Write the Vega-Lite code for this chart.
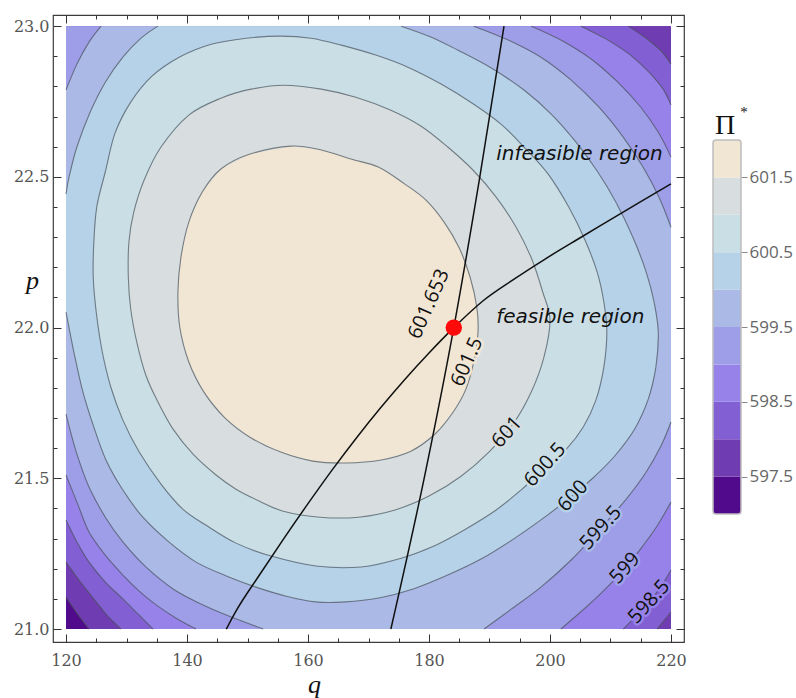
{
  "$schema": "https://vega.github.io/schema/vega-lite/v6.json",
  "padding": {"left": 12, "top": 13, "right": 0, "bottom": 0},
  "background": "white",
  "spacing": 25,
  "config": {"axis": {"grid": false, "domain": false}, "view": {"stroke": null}},
  "datasets": {
    "base": [{"q":120,"p":23},{"q":120,"p":21},{"q":220,"p":21},{"q":220,"p":23}],
    "L5975": [{"q":120,"p":23},{"q":null,"p":null},{"q":120,"p":21.106},{"q":121.8,"p":21.053},{"q":123.8,"p":21},{"q":null,"p":null},{"q":220,"p":21},{"q":null,"p":null},{"q":220,"p":23}],
    "L598": [{"q":120,"p":23},{"q":null,"p":null},{"q":120,"p":21.222},{"q":122.5,"p":21.153},{"q":125,"p":21.09},{"q":126.9,"p":21.043},{"q":129.1,"p":21},{"q":null,"p":null},{"q":217.7,"p":21},{"q":218.8,"p":21.027},{"q":220,"p":21.056},{"q":null,"p":null},{"q":220,"p":22.874},{"q":218.4,"p":22.917},{"q":215.9,"p":22.96},{"q":212.9,"p":23}],
    "L5985": [{"q":120,"p":23},{"q":null,"p":null},{"q":120,"p":21.362},{"q":121.8,"p":21.289},{"q":123.8,"p":21.222},{"q":126.5,"p":21.156},{"q":129.4,"p":21.1},{"q":131.9,"p":21.05},{"q":134.4,"p":21},{"q":null,"p":null},{"q":212.1,"p":21},{"q":214.2,"p":21.043},{"q":216.4,"p":21.09},{"q":218.4,"p":21.143},{"q":220,"p":21.196},{"q":null,"p":null},{"q":220,"p":22.738},{"q":218.7,"p":22.791},{"q":216.4,"p":22.847},{"q":213.1,"p":22.907},{"q":209.3,"p":22.957},{"q":205.1,"p":23}],
    "L599": [{"q":120,"p":23},{"q":null,"p":null},{"q":120,"p":21.511},{"q":122,"p":21.411},{"q":123.8,"p":21.322},{"q":126.5,"p":21.245},{"q":129.4,"p":21.179},{"q":132.1,"p":21.126},{"q":134.9,"p":21.08},{"q":138.2,"p":21.036},{"q":141.5,"p":21},{"q":null,"p":null},{"q":201.8,"p":21},{"q":206,"p":21.073},{"q":209.3,"p":21.136},{"q":212.4,"p":21.202},{"q":215.2,"p":21.272},{"q":217.7,"p":21.342},{"q":220,"p":21.421},{"q":null,"p":null},{"q":220,"p":22.566},{"q":217.9,"p":22.648},{"q":215,"p":22.731},{"q":211.2,"p":22.814},{"q":206.8,"p":22.891},{"q":201.8,"p":22.954},{"q":196.9,"p":23}],
    "L5995": [{"q":125.8,"p":23},{"q":123.8,"p":22.947},{"q":121.8,"p":22.874},{"q":120,"p":22.788},{"q":null,"p":null},{"q":120,"p":21.713},{"q":121.7,"p":21.587},{"q":123.8,"p":21.471},{"q":126.5,"p":21.371},{"q":129.4,"p":21.289},{"q":133.2,"p":21.206},{"q":137.7,"p":21.133},{"q":142.3,"p":21.083},{"q":146.9,"p":21.043},{"q":152.6,"p":21},{"q":null,"p":null},{"q":189.1,"p":21},{"q":193.6,"p":21.066},{"q":198.5,"p":21.139},{"q":203.5,"p":21.229},{"q":208.4,"p":21.335},{"q":212.6,"p":21.431},{"q":215.9,"p":21.521},{"q":218.4,"p":21.61},{"q":220,"p":21.687},{"q":null,"p":null},{"q":220,"p":22.333},{"q":218,"p":22.433},{"q":215.4,"p":22.532},{"q":212.1,"p":22.632},{"q":208.1,"p":22.731},{"q":203.5,"p":22.821},{"q":198.5,"p":22.897},{"q":193.1,"p":22.954},{"q":187.4,"p":23}],
    "L600": [{"q":175.4,"p":23},{"q":180.3,"p":22.964},{"q":184.8,"p":22.92},{"q":190.3,"p":22.861},{"q":195.7,"p":22.788},{"q":200.2,"p":22.708},{"q":204.3,"p":22.615},{"q":207.9,"p":22.516},{"q":210.9,"p":22.416},{"q":213.7,"p":22.3},{"q":215.9,"p":22.184},{"q":217.2,"p":22.085},{"q":217.9,"p":21.985},{"q":217.5,"p":21.869},{"q":216.2,"p":21.76},{"q":213.9,"p":21.66},{"q":210.7,"p":21.574},{"q":207.1,"p":21.501},{"q":203,"p":21.431},{"q":198.5,"p":21.362},{"q":193.7,"p":21.295},{"q":188.6,"p":21.232},{"q":183.1,"p":21.179},{"q":177.4,"p":21.133},{"q":171.7,"p":21.103},{"q":166.1,"p":21.09},{"q":161.3,"p":21.09},{"q":156.4,"p":21.109},{"q":151.4,"p":21.139},{"q":146.5,"p":21.176},{"q":141.5,"p":21.222},{"q":137,"p":21.289},{"q":132.7,"p":21.371},{"q":129.4,"p":21.461},{"q":126.6,"p":21.561},{"q":124.6,"p":21.67},{"q":122.8,"p":21.786},{"q":121.3,"p":21.919},{"q":120,"p":22.051},{"q":null,"p":null},{"q":120,"p":22.443},{"q":120.5,"p":22.499},{"q":121.8,"p":22.599},{"q":124,"p":22.715},{"q":126.5,"p":22.814},{"q":129.4,"p":22.897},{"q":132.4,"p":22.96},{"q":135.2,"p":23}],
    "L6005": [{"q":155.5,"p":22.967},{"q":160.5,"p":22.96},{"q":165.5,"p":22.937},{"q":171.2,"p":22.904},{"q":176.5,"p":22.864},{"q":182,"p":22.808},{"q":187.4,"p":22.741},{"q":191.9,"p":22.675},{"q":195.7,"p":22.599},{"q":199.7,"p":22.509},{"q":203.1,"p":22.4},{"q":205.8,"p":22.29},{"q":207.8,"p":22.184},{"q":208.9,"p":22.085},{"q":209.4,"p":21.985},{"q":208.9,"p":21.869},{"q":207.6,"p":21.76},{"q":205.5,"p":21.67},{"q":202.7,"p":21.597},{"q":199,"p":21.531},{"q":195.2,"p":21.461},{"q":191.1,"p":21.395},{"q":186.1,"p":21.332},{"q":181.2,"p":21.279},{"q":175.4,"p":21.235},{"q":168.8,"p":21.206},{"q":161.3,"p":21.209},{"q":153.9,"p":21.242},{"q":148.1,"p":21.285},{"q":143.1,"p":21.345},{"q":139.3,"p":21.398},{"q":135.7,"p":21.481},{"q":132.1,"p":21.587},{"q":129.4,"p":21.693},{"q":127.4,"p":21.803},{"q":126,"p":21.919},{"q":125,"p":22.051},{"q":124.5,"p":22.167},{"q":124.6,"p":22.284},{"q":125.1,"p":22.402},{"q":126.5,"p":22.517},{"q":128.1,"p":22.645},{"q":130.7,"p":22.748},{"q":134.2,"p":22.834},{"q":138.7,"p":22.897},{"q":144,"p":22.94},{"q":149.8,"p":22.96}],
    "L601": [{"q":156,"p":22.804},{"q":162.2,"p":22.791},{"q":167.9,"p":22.764},{"q":173.7,"p":22.721},{"q":178.7,"p":22.668},{"q":183.1,"p":22.599},{"q":187.3,"p":22.522},{"q":191.1,"p":22.433},{"q":194.4,"p":22.333},{"q":197,"p":22.227},{"q":198.8,"p":22.118},{"q":200,"p":22.025},{"q":199,"p":21.902},{"q":196.9,"p":21.786},{"q":193.9,"p":21.68},{"q":189.9,"p":21.587},{"q":185.3,"p":21.507},{"q":180,"p":21.441},{"q":174.4,"p":21.395},{"q":168.3,"p":21.371},{"q":162,"p":21.371},{"q":155.9,"p":21.391},{"q":151.9,"p":21.425},{"q":148.1,"p":21.464},{"q":144.8,"p":21.511},{"q":141,"p":21.58},{"q":137.7,"p":21.663},{"q":135.2,"p":21.753},{"q":133.2,"p":21.842},{"q":131.7,"p":21.952},{"q":130.7,"p":22.061},{"q":130.3,"p":22.167},{"q":130.4,"p":22.284},{"q":131.2,"p":22.383},{"q":132.9,"p":22.489},{"q":135.7,"p":22.599},{"q":140.3,"p":22.705},{"q":145.6,"p":22.761},{"q":150.6,"p":22.791}],
    "L6015": [{"q":157.2,"p":22.602},{"q":162.2,"p":22.589},{"q":167.1,"p":22.559},{"q":171.7,"p":22.532},{"q":176,"p":22.476},{"q":179.5,"p":22.423},{"q":182.5,"p":22.35},{"q":185,"p":22.264},{"q":186.8,"p":22.167},{"q":187.9,"p":22.068},{"q":188.1,"p":21.985},{"q":187.4,"p":21.886},{"q":186.1,"p":21.796},{"q":184,"p":21.72},{"q":181,"p":21.647},{"q":177,"p":21.59},{"q":172.1,"p":21.561},{"q":166.3,"p":21.551},{"q":160.8,"p":21.557},{"q":155.5,"p":21.587},{"q":150.6,"p":21.634},{"q":146.3,"p":21.7},{"q":142.8,"p":21.786},{"q":140.3,"p":21.886},{"q":138.8,"p":22.002},{"q":138.5,"p":22.118},{"q":139,"p":22.234},{"q":140.3,"p":22.35},{"q":142.5,"p":22.449},{"q":145.6,"p":22.526},{"q":150.3,"p":22.575}],
    "steep": [{"q":173.7,"p":21},{"q":179.2,"p":21.5},{"q":184.1,"p":22},{"q":188.4,"p":22.5},{"q":192.4,"p":23}],
    "curve": [{"q":146.5,"p":21},{"q":148,"p":21.056},{"q":152,"p":21.18},{"q":156,"p":21.3},{"q":160,"p":21.416},{"q":164,"p":21.528},{"q":168,"p":21.634},{"q":172,"p":21.734},{"q":176,"p":21.828},{"q":180,"p":21.916},{"q":184.1,"p":22},{"q":189,"p":22.09},{"q":194,"p":22.16},{"q":199,"p":22.225},{"q":205,"p":22.298},{"q":210,"p":22.358},{"q":215,"p":22.418},{"q":220,"p":22.477}],
    "opt": [{"q":184.1,"p":22}],
    "labA": [{"t":"601.653","q":180.0,"p":22.078,"v":601.653},{"t":"601.5","q":186.3,"p":21.886,"v":601.5}],
    "labB": [{"t":"601","q":192.9,"p":21.653,"v":601},{"t":"600.5","q":199.2,"p":21.544,"v":600.5},{"t":"600","q":203.8,"p":21.441,"v":600},{"t":"599.5","q":208.4,"p":21.335,"v":599.5},{"t":"599","q":212.4,"p":21.202,"v":599},{"t":"598.5","q":216.4,"p":21.09,"v":598.5}],
    "ann": [{"t":"infeasible region","q":191.1,"p":22.575},{"t":"feasible region","q":191.1,"p":22.035}],
    "bands": [{"lo":597,"hi":597.5,"mid":597.25},{"lo":597.5,"hi":598,"mid":597.75},{"lo":598,"hi":598.5,"mid":598.25},{"lo":598.5,"hi":599,"mid":598.75},{"lo":599,"hi":599.5,"mid":599.25},{"lo":599.5,"hi":600,"mid":599.75},{"lo":600,"hi":600.5,"mid":600.25},{"lo":600.5,"hi":601,"mid":600.75},{"lo":601,"hi":601.5,"mid":601.25},{"lo":601.5,"hi":602,"mid":601.75}],
    "barframe": [{"lo":597,"hi":602}],
    "ttl": [{"t":"Π","p":602.08}],
    "ast": [{"t":"*","p":602.31}]
  },
  "hconcat": [
    {
      "width": 631,
      "height": 627,
      "view": {"stroke": "#3c3c3c", "strokeWidth": 1.2},
      "resolve": {"axis": {"x": "independent", "y": "independent"}},
      "layer": [
        {"data": {"name": "base"}, "mark": {"type": "line", "fill": "#520A8C", "strokeWidth": 0, "invalid": "filter"},
         "encoding": {
           "x": {"field": "q", "type": "quantitative", "scale": {"domain": [117.85, 222.15], "nice": false, "zero": false},
                 "axis": {"orient": "bottom", "values": [120,140,160,180,200,220], "ticks": false, "domain": false, "labelFont": "DejaVu Serif", "labelFontSize": 16, "labelColor": "#555", "labelPadding": 10, "title": "q", "titleFont": "Liberation Serif", "titleFontSize": 26, "titleFontStyle": "italic", "titleFontWeight": "normal", "titleColor": "#111", "titleX": 261, "titleY": 50, "titleAlign": "center", "titleBaseline": "alphabetic", "titleAngle": 0}},
           "y": {"field": "p", "type": "quantitative", "scale": {"domain": [20.957, 23.037], "nice": false, "zero": false},
                 "axis": {"orient": "left", "values": [21,21.5,22,22.5,23], "format": ".1f", "ticks": false, "domain": false, "labelFont": "DejaVu Serif", "labelFontSize": 16, "labelColor": "#555", "labelPadding": 4, "title": "p", "titleFont": "Liberation Serif", "titleFontSize": 26, "titleFontStyle": "italic", "titleFontWeight": "normal", "titleColor": "#111", "titleX": -21, "titleY": 273, "titleAlign": "center", "titleBaseline": "alphabetic", "titleAngle": 0}},
           "order": {"value": null}}},
        {"data": {"name": "L5975"}, "mark": {"type": "line", "fill": "#703CB2", "strokeWidth": 0, "invalid": "filter"},
         "encoding": {
           "x": {"field": "q", "type": "quantitative", "axis": {"orient": "bottom", "values": [120,140,160,180,200,220], "labels": false, "ticks": true, "tickSize": 8, "offset": -8, "tickColor": "#333", "tickWidth": 1, "domain": false, "title": null}},
           "y": {"field": "p", "type": "quantitative", "axis": {"orient": "left", "values": [21,21.5,22,22.5,23], "labels": false, "ticks": true, "tickSize": 8, "offset": -8, "tickColor": "#333", "tickWidth": 1, "domain": false, "title": null}},
           "order": {"value": null}}},
        {"data": {"name": "L598"}, "mark": {"type": "line", "fill": "#825FD2", "strokeWidth": 0, "invalid": "filter"},
         "encoding": {
           "x": {"field": "q", "type": "quantitative", "axis": {"orient": "bottom", "values": [125,130,135,145,150,155,165,170,175,185,190,195,205,210,215], "labels": false, "ticks": true, "tickSize": 4, "offset": -4, "tickColor": "#333", "tickWidth": 1, "domain": false, "title": null}},
           "y": {"field": "p", "type": "quantitative", "axis": {"orient": "left", "values": [21.1,21.2,21.3,21.4,21.6,21.7,21.8,21.9,22.1,22.2,22.3,22.4,22.6,22.7,22.8,22.9], "labels": false, "ticks": true, "tickSize": 4, "offset": -4, "tickColor": "#333", "tickWidth": 1, "domain": false, "title": null}},
           "order": {"value": null}}},
        {"data": {"name": "L5985"}, "mark": {"type": "line", "fill": "#9682E8", "strokeWidth": 0, "invalid": "filter"},
         "encoding": {
           "x": {"field": "q", "type": "quantitative", "axis": {"orient": "top", "values": [120,140,160,180,200,220], "labels": false, "ticks": true, "tickSize": 8, "offset": -8, "tickColor": "#333", "tickWidth": 1, "domain": false, "title": null}},
           "y": {"field": "p", "type": "quantitative", "axis": {"orient": "right", "values": [21,21.5,22,22.5,23], "labels": false, "ticks": true, "tickSize": 8, "offset": -8, "tickColor": "#333", "tickWidth": 1, "domain": false, "title": null}},
           "order": {"value": null}}},
        {"data": {"name": "L599"}, "mark": {"type": "line", "fill": "#9E9EE8", "strokeWidth": 0, "invalid": "filter"},
         "encoding": {
           "x": {"field": "q", "type": "quantitative", "axis": {"orient": "top", "values": [125,130,135,145,150,155,165,170,175,185,190,195,205,210,215], "labels": false, "ticks": true, "tickSize": 4, "offset": -4, "tickColor": "#333", "tickWidth": 1, "domain": false, "title": null}},
           "y": {"field": "p", "type": "quantitative", "axis": {"orient": "right", "values": [21.1,21.2,21.3,21.4,21.6,21.7,21.8,21.9,22.1,22.2,22.3,22.4,22.6,22.7,22.8,22.9], "labels": false, "ticks": true, "tickSize": 4, "offset": -4, "tickColor": "#333", "tickWidth": 1, "domain": false, "title": null}},
           "order": {"value": null}}},
        {"data": {"name": "L5995"}, "mark": {"type": "line", "fill": "#AAB9E6", "strokeWidth": 0, "invalid": "filter"},
         "encoding": {"x": {"field": "q", "type": "quantitative", "axis": null}, "y": {"field": "p", "type": "quantitative", "axis": null}, "order": {"value": null}}},
        {"data": {"name": "L600"}, "mark": {"type": "line", "fill": "#B6D2E8", "strokeWidth": 0, "invalid": "filter"},
         "encoding": {"x": {"field": "q", "type": "quantitative", "axis": null}, "y": {"field": "p", "type": "quantitative", "axis": null}, "order": {"value": null}}},
        {"data": {"name": "L6005"}, "mark": {"type": "line", "fill": "#CADEE6", "strokeWidth": 0, "invalid": "filter"},
         "encoding": {"x": {"field": "q", "type": "quantitative", "axis": null}, "y": {"field": "p", "type": "quantitative", "axis": null}, "order": {"value": null}}},
        {"data": {"name": "L601"}, "mark": {"type": "line", "fill": "#D8DEDF", "strokeWidth": 0, "invalid": "filter"},
         "encoding": {"x": {"field": "q", "type": "quantitative", "axis": null}, "y": {"field": "p", "type": "quantitative", "axis": null}, "order": {"value": null}}},
        {"data": {"name": "L6015"}, "mark": {"type": "line", "fill": "#F1E6D4", "strokeWidth": 0, "invalid": "filter"},
         "encoding": {"x": {"field": "q", "type": "quantitative", "axis": null}, "y": {"field": "p", "type": "quantitative", "axis": null}, "order": {"value": null}}},
        {"data": {"name": "L5975"}, "mark": {"type": "line", "interpolate": "cardinal", "stroke": "#4a525a", "strokeOpacity": 0.7, "strokeWidth": 1.1, "invalid": "break-paths-filter-domains"},
         "encoding": {"x": {"field": "q", "type": "quantitative", "axis": null}, "y": {"field": "p", "type": "quantitative", "axis": null}, "order": {"value": null}}},
        {"data": {"name": "L598"}, "mark": {"type": "line", "interpolate": "cardinal", "stroke": "#4a525a", "strokeOpacity": 0.7, "strokeWidth": 1.1, "invalid": "break-paths-filter-domains"},
         "encoding": {"x": {"field": "q", "type": "quantitative", "axis": null}, "y": {"field": "p", "type": "quantitative", "axis": null}, "order": {"value": null}}},
        {"data": {"name": "L5985"}, "mark": {"type": "line", "interpolate": "cardinal", "stroke": "#4a525a", "strokeOpacity": 0.7, "strokeWidth": 1.1, "invalid": "break-paths-filter-domains"},
         "encoding": {"x": {"field": "q", "type": "quantitative", "axis": null}, "y": {"field": "p", "type": "quantitative", "axis": null}, "order": {"value": null}}},
        {"data": {"name": "L599"}, "mark": {"type": "line", "interpolate": "cardinal", "stroke": "#4a525a", "strokeOpacity": 0.7, "strokeWidth": 1.1, "invalid": "break-paths-filter-domains"},
         "encoding": {"x": {"field": "q", "type": "quantitative", "axis": null}, "y": {"field": "p", "type": "quantitative", "axis": null}, "order": {"value": null}}},
        {"data": {"name": "L5995"}, "mark": {"type": "line", "interpolate": "cardinal", "stroke": "#4a525a", "strokeOpacity": 0.7, "strokeWidth": 1.1, "invalid": "break-paths-filter-domains"},
         "encoding": {"x": {"field": "q", "type": "quantitative", "axis": null}, "y": {"field": "p", "type": "quantitative", "axis": null}, "order": {"value": null}}},
        {"data": {"name": "L600"}, "mark": {"type": "line", "interpolate": "cardinal", "stroke": "#4a525a", "strokeOpacity": 0.7, "strokeWidth": 1.1, "invalid": "break-paths-filter-domains"},
         "encoding": {"x": {"field": "q", "type": "quantitative", "axis": null}, "y": {"field": "p", "type": "quantitative", "axis": null}, "order": {"value": null}}},
        {"data": {"name": "L6005"}, "mark": {"type": "line", "interpolate": "cardinal-closed", "stroke": "#4a525a", "strokeOpacity": 0.7, "strokeWidth": 1.1, "invalid": "break-paths-filter-domains"},
         "encoding": {"x": {"field": "q", "type": "quantitative", "axis": null}, "y": {"field": "p", "type": "quantitative", "axis": null}, "order": {"value": null}}},
        {"data": {"name": "L601"}, "mark": {"type": "line", "interpolate": "cardinal-closed", "stroke": "#4a525a", "strokeOpacity": 0.7, "strokeWidth": 1.1, "invalid": "break-paths-filter-domains"},
         "encoding": {"x": {"field": "q", "type": "quantitative", "axis": null}, "y": {"field": "p", "type": "quantitative", "axis": null}, "order": {"value": null}}},
        {"data": {"name": "L6015"}, "mark": {"type": "line", "interpolate": "cardinal-closed", "stroke": "#4a525a", "strokeOpacity": 0.7, "strokeWidth": 1.1, "invalid": "break-paths-filter-domains"},
         "encoding": {"x": {"field": "q", "type": "quantitative", "axis": null}, "y": {"field": "p", "type": "quantitative", "axis": null}, "order": {"value": null}}},
        {"data": {"name": "labA"}, "mark": {"type": "text", "angle": 294, "font": "Open Sans", "fontSize": 20, "strokeWidth": 5, "strokeJoin": "round"},
         "encoding": {"x": {"field": "q", "type": "quantitative", "axis": null}, "y": {"field": "p", "type": "quantitative", "axis": null}, "text": {"field": "t"},
           "fill": {"field": "v", "type": "quantitative", "legend": null, "scale": {"type": "threshold", "domain": [597.5,598,598.5,599,599.5,600,600.5,601,601.5], "range": ["#520A8C","#703CB2","#825FD2","#9682E8","#9E9EE8","#AAB9E6","#B6D2E8","#CADEE6","#D8DEDF","#F1E6D4"]}},
           "stroke": {"field": "v", "type": "quantitative", "legend": null, "scale": {"type": "threshold", "domain": [597.5,598,598.5,599,599.5,600,600.5,601,601.5], "range": ["#520A8C","#703CB2","#825FD2","#9682E8","#9E9EE8","#AAB9E6","#B6D2E8","#CADEE6","#D8DEDF","#F1E6D4"]}}}},
        {"data": {"name": "labB"}, "mark": {"type": "text", "angle": 312, "font": "Open Sans", "fontSize": 20, "strokeWidth": 5, "strokeJoin": "round"},
         "encoding": {"x": {"field": "q", "type": "quantitative", "axis": null}, "y": {"field": "p", "type": "quantitative", "axis": null}, "text": {"field": "t"},
           "fill": {"field": "v", "type": "quantitative", "legend": null, "scale": {"type": "threshold", "domain": [597.5,598,598.5,599,599.5,600,600.5,601,601.5], "range": ["#520A8C","#703CB2","#825FD2","#9682E8","#9E9EE8","#AAB9E6","#B6D2E8","#CADEE6","#D8DEDF","#F1E6D4"]}},
           "stroke": {"field": "v", "type": "quantitative", "legend": null, "scale": {"type": "threshold", "domain": [597.5,598,598.5,599,599.5,600,600.5,601,601.5], "range": ["#520A8C","#703CB2","#825FD2","#9682E8","#9E9EE8","#AAB9E6","#B6D2E8","#CADEE6","#D8DEDF","#F1E6D4"]}}}},
        {"data": {"name": "labA"}, "mark": {"type": "text", "angle": 294, "font": "Open Sans", "fontSize": 20, "fill": "#111"},
         "encoding": {"x": {"field": "q", "type": "quantitative", "axis": null}, "y": {"field": "p", "type": "quantitative", "axis": null}, "text": {"field": "t"}}},
        {"data": {"name": "labB"}, "mark": {"type": "text", "angle": 312, "font": "Open Sans", "fontSize": 20, "fill": "#111"},
         "encoding": {"x": {"field": "q", "type": "quantitative", "axis": null}, "y": {"field": "p", "type": "quantitative", "axis": null}, "text": {"field": "t"}}},
        {"data": {"name": "steep"}, "mark": {"type": "line", "interpolate": "monotone", "stroke": "#111", "strokeWidth": 1.5},
         "encoding": {"x": {"field": "q", "type": "quantitative", "axis": null}, "y": {"field": "p", "type": "quantitative", "axis": null}, "order": {"value": null}}},
        {"data": {"name": "curve"}, "mark": {"type": "line", "interpolate": "monotone", "stroke": "#111", "strokeWidth": 1.5},
         "encoding": {"x": {"field": "q", "type": "quantitative", "axis": null}, "y": {"field": "p", "type": "quantitative", "axis": null}, "order": {"value": null}}},
        {"data": {"name": "opt"}, "mark": {"type": "point", "filled": true, "fill": "#ff0a0a", "size": 270, "opacity": 1, "strokeWidth": 0},
         "encoding": {"x": {"field": "q", "type": "quantitative", "axis": null}, "y": {"field": "p", "type": "quantitative", "axis": null}}},
        {"data": {"name": "ann"}, "mark": {"type": "text", "align": "left", "baseline": "middle", "font": "DejaVu Sans", "fontStyle": "italic", "fontSize": 20, "fill": "#111"},
         "encoding": {"x": {"field": "q", "type": "quantitative", "axis": null}, "y": {"field": "p", "type": "quantitative", "axis": null}, "text": {"field": "t"}}}
      ]
    },
    {
      "width": 28,
      "height": 627,
      "view": {"stroke": null},
      "resolve": {"axis": {"y": "independent"}},
      "layer": [
        {"data": {"name": "bands"}, "mark": {"type": "rect"},
         "encoding": {
           "y": {"field": "lo", "type": "quantitative", "scale": {"domain": [595.289, 603.671], "nice": false, "zero": false},
                 "axis": {"orient": "right", "values": [597.5,598.5,599.5,600.5,601.5], "format": ".1f", "labels": true, "ticks": true, "labelFont": "Open Sans", "labelFontSize": 17, "labelColor": "#666", "tickSize": 6, "tickColor": "#888", "tickWidth": 1, "labelPadding": 2, "domain": false, "title": null}},
           "y2": {"field": "hi"},
           "fill": {"field": "mid", "type": "quantitative", "legend": null, "scale": {"type": "threshold", "domain": [597.5,598,598.5,599,599.5,600,600.5,601,601.5], "range": ["#520A8C","#703CB2","#825FD2","#9682E8","#9E9EE8","#AAB9E6","#B6D2E8","#CADEE6","#D8DEDF","#F1E6D4"]}}}},
        {"data": {"name": "barframe"}, "mark": {"type": "rect", "fillOpacity": 0, "stroke": "#bdbdbd", "strokeWidth": 1.5, "cornerRadius": 3},
         "encoding": {"y": {"field": "lo", "type": "quantitative", "axis": null}, "y2": {"field": "hi"}}},
        {"data": {"name": "ttl"}, "mark": {"type": "text", "font": "Liberation Serif", "fontSize": 28, "baseline": "alphabetic", "align": "center", "dx": -2, "fill": "#111"},
         "encoding": {"y": {"field": "p", "type": "quantitative", "axis": null}, "text": {"field": "t"}}},
        {"data": {"name": "ast"}, "mark": {"type": "text", "font": "Liberation Serif", "fontSize": 15, "baseline": "alphabetic", "align": "center", "dx": 17, "fill": "#111"},
         "encoding": {"y": {"field": "p", "type": "quantitative", "axis": null}, "text": {"field": "t"}}}
      ]
    }
  ]
}
